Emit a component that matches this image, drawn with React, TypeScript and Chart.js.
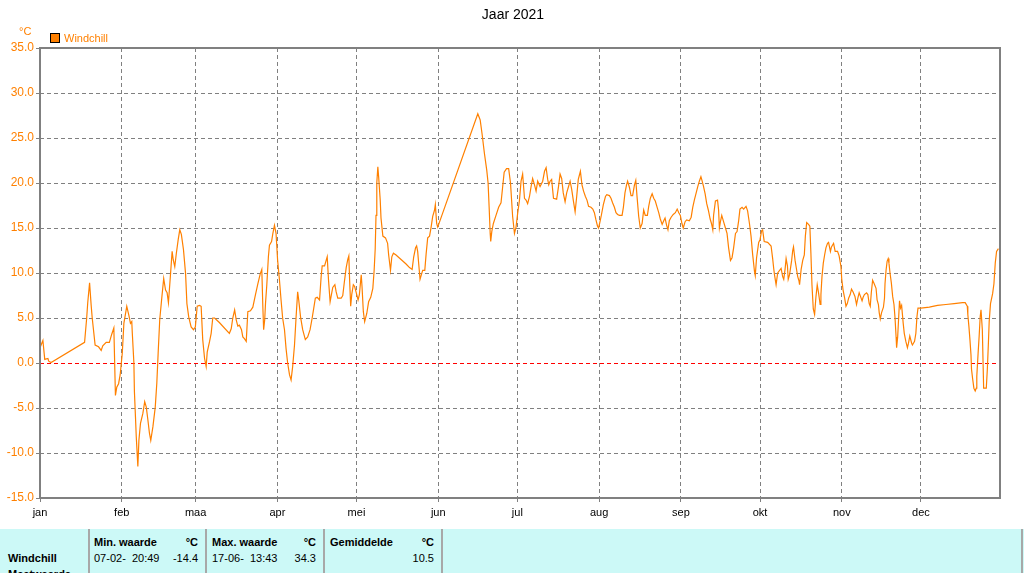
import React, { useEffect, useRef } from "react";
import { Chart, registerables } from "chart.js";

Chart.register(...registerables);

const chartTitle = "Jaar 2021";
const unitLabel = "°C";
const seriesName = "Windchill";

const monthStarts = [0, 31, 59, 90, 120, 151, 181, 212, 243, 273, 304, 334];
const monthLabels = ["jan", "feb", "maa", "apr", "mei", "jun", "jul", "aug", "sep", "okt", "nov", "dec"];
const yTicks = [-15, -10, -5, 0, 5, 10, 15, 20, 25, 30, 35];
const zeroLineValue = 0;

// day of year (0 = 1 jan) and windchill value in °C
const dayOfYear = [
  0, 1.1, 1.8, 3.0, 3.3, 4.2, 16.9, 17.7, 18.1, 18.8,
  19.4, 19.8, 20.9, 22.2, 23.2, 23.8, 25.1, 26.3, 27.2, 28.0,
  28.6, 29.1, 29.8, 30.4, 31.2, 31.8, 32.9, 33.7, 34.3, 34.8,
  35.0, 35.6, 35.8, 36.2, 36.5, 37.1, 37.5, 38.1, 39.0, 39.7,
  40.3, 40.9, 41.5, 42.0, 42.8, 43.7, 44.3, 44.8, 45.4, 46.1,
  46.9, 47.6, 48.2, 48.7, 49.4, 50.1, 50.5, 51.1, 51.7, 52.4,
  53.0, 53.6, 54.4, 55.2, 55.7, 56.4, 57.3, 58.2, 58.9, 59.6,
  60.5, 61.1, 61.7, 62.4, 63.0, 63.4, 64.3, 64.9, 65.5, 66.2,
  68.0, 71.8, 72.5, 73.1, 73.8, 74.4, 75.0, 75.6, 76.4, 76.9,
  77.5, 78.2, 78.8, 79.8, 80.7, 81.7, 82.6, 83.5, 84.1, 84.5,
  84.8, 85.2, 85.5, 86.0, 86.6, 87.0, 87.8, 88.3, 88.9, 89.5,
  90.1, 90.8, 91.4, 92.0, 92.7, 93.3, 93.9, 94.6, 95.2, 95.8,
  96.5, 97.1, 97.7, 98.1, 98.8, 99.6, 100.6, 101.5, 102.4, 103.2,
  103.8, 104.4, 105.1, 106.0, 106.6, 107.0, 107.9, 108.5, 108.9, 109.4,
  110.0, 110.5, 111.0, 111.8, 112.3, 112.9, 114.2, 114.8, 115.4, 116.1,
  116.7, 117.1, 117.4, 117.8, 118.2, 118.8, 119.3, 120.1, 120.6, 121.1,
  121.8, 122.1, 122.6, 123.1, 123.9, 124.6, 125.4, 126.2, 126.7, 127.1,
  127.4, 127.7, 128.1, 128.4, 129.0, 129.3, 130.0, 131.0, 131.8, 132.2,
  132.9, 133.4, 134.0, 135.0, 136.9, 138.8, 140.1, 141.1, 141.7, 142.4,
  142.8, 143.2, 143.6, 144.1, 144.7, 145.1, 145.9, 146.4, 147.0, 147.7,
  148.3, 148.9, 149.6, 149.9, 150.4, 150.8, 166.0, 166.9, 167.6, 168.5,
  169.4, 169.9, 170.3, 170.7, 170.9, 171.3, 171.9, 172.9, 173.9, 174.8,
  175.4, 176.0, 176.9, 177.7, 178.4, 179.2, 179.9, 180.5, 181.1, 181.8,
  182.4, 183.0, 183.7, 184.3, 184.9, 185.6, 186.2, 186.8, 187.5, 188.1,
  188.7, 189.6, 190.6, 191.3, 191.9, 192.5, 192.9, 193.4, 194.0, 194.7,
  195.9, 196.6, 197.2, 197.8, 198.4, 199.1, 199.7, 200.3, 201.0, 201.6,
  202.2, 202.9, 203.5, 204.1, 204.9, 205.5, 206.1, 206.8, 207.4, 208.0,
  208.9, 209.6, 210.2, 210.8, 211.4, 211.8, 212.4, 212.9, 213.6, 214.4,
  214.9, 215.9, 216.5, 217.1, 217.8, 218.4, 219.0, 219.7, 220.7, 221.2,
  221.8, 222.4, 222.8, 223.5, 224.1, 224.7, 225.4, 225.9, 226.4, 227.0,
  227.6, 228.3, 228.9, 229.5, 230.3, 230.8, 231.4, 232.1, 232.7, 233.3,
  234.0, 234.6, 235.2, 235.9, 236.5, 237.0, 237.6, 238.1, 238.6, 239.3,
  240.1, 240.9, 241.6, 242.2, 242.8, 243.4, 243.9, 244.6, 245.2, 246.2,
  246.9, 247.5, 248.1, 248.8, 249.4, 250.0, 250.6, 251.0, 251.6, 252.2,
  252.8, 253.4, 254.1, 254.6, 255.1, 255.4, 256.1, 256.9, 257.3, 257.6,
  258.0, 258.5, 259.1, 259.9, 260.5, 261.1, 261.8, 262.4, 263.0, 263.7,
  264.3, 264.9, 265.4, 266.2, 266.8, 267.7, 268.3, 269.0, 269.6, 270.2,
  270.9, 271.2, 271.7, 272.5, 273.0, 273.6, 274.0, 274.6, 275.9, 277.2,
  277.8, 278.2, 278.5, 279.1, 279.7, 281.0, 281.6, 282.0, 282.5, 282.9,
  283.4, 283.7, 284.2, 285.0, 285.4, 285.7, 286.3, 286.8, 287.3, 287.8,
  288.0, 288.6, 289.2, 289.8, 290.2, 290.7, 291.4, 291.9, 292.3, 292.7,
  293.2, 293.7, 294.2, 294.7, 295.2, 295.8, 296.1, 296.5, 297.0, 297.5,
  298.0, 298.6, 299.0, 299.7, 300.1, 300.9, 301.5, 302.4, 303.0, 303.7,
  304.0, 304.5, 305.1, 305.6, 306.1, 306.6, 307.2, 307.7, 308.3, 309.0,
  309.6, 310.1, 310.6, 311.1, 311.7, 312.1, 312.6, 313.4, 313.9, 314.4,
  314.8, 315.2, 315.7, 316.3, 317.0, 317.4, 317.9, 318.2, 318.6, 319.1,
  319.8, 320.2, 320.4, 320.8, 321.2, 321.6, 321.9, 322.3, 322.8, 323.3,
  323.8, 324.2, 324.6, 324.8, 325.2, 325.6, 325.9, 326.3, 326.7, 327.0,
  327.3, 327.7, 328.3, 328.9, 329.3, 329.8, 330.5, 330.8, 331.6, 332.1,
  332.5, 332.9, 334.0, 337.2, 340.3, 343.5, 346.6, 349.8, 350.8, 351.6,
  351.8, 352.2, 352.6, 353.0, 353.2, 353.6, 354.1, 354.6, 355.0, 355.2,
  355.7, 356.1, 356.5, 356.8, 357.3, 357.8, 358.8, 359.2, 359.6, 359.9,
  360.4, 361.2, 361.7, 362.2, 362.7, 363.4,
];

const windchill = [
  1.7, 2.5, 0.4, 0.5, 0.2, 0.05, 2.3, 5.0, 6.7, 8.9,
  6.4, 5.0, 2.0, 1.8, 1.4, 1.9, 2.3, 2.3, 3.2, 3.9,
  -3.6, -2.7, -2.3, -1.3, 1.1, 4.4, 6.3, 5.3, 4.4, 4.6,
  3.3, 0, -3.2, -6.0, -8.2, -11.5, -8.6, -6.7, -5.6, -4.3,
  -4.9, -6.3, -7.8, -8.6, -7.1, -4.9, -2.2, 1.1, 4.8, 7.0,
  9.4, 8.1, 7.8, 6.7, 9.5, 12.4, 11.5, 10.7, 12.2, 13.7,
  14.8, 14.3, 12.6, 9.9, 6.6, 5.1, 4.0, 3.7, 4.0, 6.3,
  6.4, 6.3, 2.6, 0.5, -0.4, 1.2, 2.4, 3.3, 5.0, 5.0,
  4.5, 3.3, 3.8, 5.0, 5.9, 4.8, 4.1, 4.2, 3.7, 2.9,
  2.7, 2.4, 5.7, 5.8, 6.2, 7.6, 8.8, 9.9, 10.4, 6.2,
  3.7, 4.8, 6.6, 8.7, 11.8, 13.1, 13.5, 14.4, 15.3, 14.4,
  11.4, 9.2, 7.0, 5.0, 3.7, 1.6, 0, -1.3, -1.9, -0.4,
  2.0, 5.1, 7.9, 7.0, 5.1, 3.7, 2.6, 2.9, 3.7, 5.0,
  6.1, 7.2, 7.3, 7.0, 9.6, 10.8, 10.8, 11.4, 11.8, 9.2,
  6.8, 7.6, 8.4, 8.7, 7.9, 7.2, 7.2, 7.5, 9.0, 10.6,
  11.5, 11.9, 9.2, 6.3, 7.6, 8.7, 8.5, 7.6, 7.0, 7.6,
  9.8, 8.5, 5.7, 4.6, 5.5, 6.8, 7.3, 8.3, 10.3, 12.7,
  16.4, 20.0, 21.8, 20.7, 18.1, 16.1, 14.1, 13.9, 13.3, 12.0,
  10.3, 11.8, 12.2, 12.0, 11.5, 11.0, 10.6, 10.4, 11.8, 12.8,
  13.0, 12.4, 11.0, 9.3, 9.9, 10.3, 10.3, 12.1, 13.9, 14.1,
  15.1, 16.3, 17.0, 17.6, 15.5, 15.1, 27.7, 27.0, 25.5, 23.3,
  21.4, 20.0, 17.3, 14.4, 13.5, 14.6, 15.5, 16.4, 17.3, 17.8,
  19.5, 21.2, 21.6, 21.6, 20.0, 16.3, 14.4, 15.1, 16.6, 18.1,
  20.2, 21.0, 18.3, 18.1, 17.7, 18.5, 19.6, 20.5, 19.8, 19.1,
  20.2, 19.6, 20.2, 21.3, 21.7, 20.4, 19.8, 20.2, 20.4, 18.3,
  18.2, 19.6, 21.0, 20.5, 18.9, 17.9, 18.9, 19.5, 20.2, 19.3,
  18.1, 16.8, 18.5, 20.4, 21.3, 19.8, 19.1, 18.5, 18.1, 17.4,
  17.3, 17.1, 16.7, 15.9, 15.2, 15.0, 15.8, 16.5, 17.6, 18.5,
  18.7, 18.6, 18.3, 17.8, 17.3, 16.7, 16.5, 16.4, 16.4, 17.3,
  18.9, 19.8, 20.2, 19.5, 18.6, 18.6, 19.8, 20.3, 18.4, 16.3,
  15.0, 15.5, 17.0, 16.4, 16.4, 17.4, 18.3, 18.8, 18.3, 18.0,
  17.3, 16.7, 16.0, 15.4, 15.8, 16.1, 15.3, 14.8, 15.8, 16.2,
  16.5, 16.7, 17.1, 16.7, 16.4, 15.5, 15.0, 15.7, 15.9, 15.8,
  16.2, 17.3, 18.1, 18.9, 19.6, 20.2, 20.7, 20.3, 19.6, 18.8,
  17.7, 17.0, 16.0, 15.5, 14.8, 16.4, 18.0, 18.1, 17.0, 15.0,
  15.7, 16.4, 15.8, 15.0, 14.4, 12.8, 11.4, 11.7, 12.8, 14.4,
  14.6, 15.8, 17.1, 17.3, 17.1, 17.4, 16.9, 15.5, 14.1, 12.1,
  10.2, 9.7, 11.7, 13.4, 13.7, 14.7, 14.8, 13.5, 13.4, 13.0,
  11.6, 10.5, 9.8, 8.7, 10.0, 10.5, 9.6, 9.3, 10.4, 11.6,
  10.8, 9.3, 9.8, 11.4, 12.5, 12.9, 11.4, 10.5, 9.6, 9.1,
  8.7, 10.4, 11.4, 12.0, 14.1, 15.6, 15.4, 15.2, 12.2, 8.7,
  6.0, 5.4, 7.3, 8.7, 7.8, 6.5, 7.6, 9.6, 11.1, 12.0,
  12.8, 13.3, 13.4, 12.4, 12.9, 13.3, 12.4, 12.4, 11.9, 10.7,
  9.3, 8.1, 7.2, 6.3, 6.6, 7.2, 7.6, 8.2, 7.9, 7.4,
  6.5, 7.2, 7.8, 7.4, 6.9, 7.3, 7.6, 7.8, 7.6, 6.6,
  6.3, 7.8, 9.2, 8.8, 8.3, 7.0, 6.5, 5.6, 4.9, 5.6,
  6.2, 7.2, 8.8, 10.3, 11.3, 11.6, 11.1, 10.0, 8.9, 7.4,
  6.5, 5.0, 2.9, 1.7, 2.9, 5.2, 6.9, 6.1, 6.4, 5.4,
  4.4, 3.3, 2.4, 1.7, 2.2, 3.0, 2.2, 2.0, 2.4, 3.3,
  5.1, 6.1, 6.1, 6.2, 6.4, 6.5, 6.6, 6.7, 6.7, 6.3,
  5.4, 4.1, 2.6, 0.9, -0.7, -1.7, -2.8, -3.1, -2.8, -1.5,
  1.1, 3.0, 5.2, 5.9, 3.7, -2.8, -2.8, -0.7, 2.2, 4.6,
  6.6, 7.7, 8.8, 11.1, 12.4, 12.7,
];

const rowLabels = ["Windchill", "Meetwaarde"];
const statHeaders = ["Min. waarde", "Max. waarde", "Gemiddelde"];
const statTimes = ["07-02-  20:49", "17-06-  13:43", ""];
const statValues = ["-14.4", "34.3", "10.5"];

const ORANGE = "#ff8000";
const GRID = "#808080";
const FONT = "'Liberation Sans', Arial, sans-serif";
const CYAN = "#ccf9f7";

const decorPlugin = {
  id: "decor",
  beforeDatasetsDraw(chart: any) {
    const ctx = chart.ctx as CanvasRenderingContext2D;
    const { left, right } = chart.chartArea;
    const y = Math.round(chart.scales.y.getPixelForValue(zeroLineValue)) + 0.5;
    ctx.save();
    ctx.strokeStyle = "#ff0000";
    ctx.lineWidth = 1;
    ctx.setLineDash([4, 3]);
    ctx.beginPath();
    ctx.moveTo(left, y);
    ctx.lineTo(right, y);
    ctx.stroke();
    ctx.restore();
  },
  afterDraw(chart: any) {
    const ctx = chart.ctx as CanvasRenderingContext2D;
    const { left, top, right, bottom } = chart.chartArea;
    ctx.save();
    // frame
    ctx.strokeStyle = GRID;
    ctx.lineWidth = 2;
    ctx.setLineDash([]);
    ctx.strokeRect(left, top, right - left, bottom - top);
    // title
    ctx.fillStyle = "#000";
    ctx.font = `14px ${FONT}`;
    ctx.textAlign = "center";
    ctx.textBaseline = "middle";
    ctx.fillText(chartTitle, 513, 15);
    // unit
    ctx.fillStyle = ORANGE;
    ctx.font = `11px ${FONT}`;
    ctx.textAlign = "left";
    ctx.fillText(unitLabel, 19, 32);
    // legend
    ctx.fillRect(50, 33, 10, 10);
    ctx.strokeStyle = "#000";
    ctx.lineWidth = 1;
    ctx.strokeRect(50.5, 33.5, 9, 9);
    ctx.fillStyle = ORANGE;
    ctx.fillText(seriesName, 64, 38.5);
    ctx.restore();
  },
};

function ChartCanvas() {
  const ref = useRef<HTMLCanvasElement | null>(null);
  useEffect(() => {
    if (!ref.current) return;
    const chart = new Chart(ref.current, {
      type: "line",
      data: {
        datasets: [
          {
            label: seriesName,
            data: dayOfYear.map((d, i) => ({ x: d, y: windchill[i] })),
            borderColor: ORANGE,
            backgroundColor: ORANGE,
            borderWidth: 1.2,
            pointRadius: 0,
            tension: 0,
            fill: false,
          },
        ],
      },
      options: {
        animation: false,
        responsive: false,
        maintainAspectRatio: false,
        devicePixelRatio: 1,
        layout: { padding: { left: 0, right: 24, top: 48, bottom: 0 } },
        plugins: {
          legend: { display: false },
          title: { display: false },
          tooltip: { enabled: false },
        },
        scales: {
          x: {
            type: "linear",
            min: 0,
            max: 364,
            afterBuildTicks: (s: any) => {
              s.ticks = monthStarts.map((v) => ({ value: v }));
            },
            afterFit: (s: any) => {
              s.height = 31;
            },
            ticks: {
              autoSkip: false,
              maxRotation: 0,
              color: "#000",
              padding: 4,
              font: { family: FONT, size: 11 },
              callback: (v: any) => {
                const i = monthStarts.indexOf(Number(v));
                return i >= 0 ? monthLabels[i] : "";
              },
            },
            grid: {
              color: GRID,
              lineWidth: 1,
              tickLength: 4,
              tickColor: GRID,
              tickBorderDash: [],
              borderDash: [4, 3],
            } as any,
            border: { display: false, dash: [4, 3] },
          },
          y: {
            min: -15,
            max: 35,
            afterBuildTicks: (s: any) => {
              s.ticks = yTicks.map((v) => ({ value: v }));
            },
            afterFit: (s: any) => {
              s.width = 40;
            },
            ticks: {
              color: ORANGE,
              padding: 2,
              font: { family: FONT, size: 12 },
              callback: (v: any) => Number(v).toFixed(1),
            },
            grid: {
              color: (c: any) => (c.tick && c.tick.value === zeroLineValue ? "rgba(0,0,0,0)" : GRID),
              lineWidth: 1,
              tickLength: 4,
              tickColor: GRID,
              tickBorderDash: [],
              borderDash: [4, 3],
            } as any,
            border: { display: false, dash: [4, 3] },
          },
        },
      },
      plugins: [decorPlugin],
    } as any);
    return () => chart.destroy();
  }, []);
  return (
    <canvas
      ref={ref}
      width={1024}
      height={529}
      style={{ position: "absolute", left: 0, top: 0, width: 1024, height: 529, display: "block" }}
    />
  );
}

const sepXs = [88, 205, 323, 441, 1021];
const colLefts = [94, 212, 330];
const colRights = [198, 316, 434];

function StatsTable() {
  const base: React.CSSProperties = {
    position: "absolute",
    fontFamily: FONT,
    fontSize: 11,
    lineHeight: "13px",
    color: "#000",
    whiteSpace: "pre",
  };
  return (
    <div
      style={{
        position: "absolute",
        left: 0,
        top: 529,
        width: 1024,
        height: 44,
        background: CYAN,
        overflow: "hidden",
      }}
    >
      {sepXs.map((x, i) => (
        <div
          key={"s" + i}
          style={{ position: "absolute", left: x, top: 0, width: 2, height: 60, background: "#a8a8a8" }}
        />
      ))}
      <div style={{ ...base, left: 8, top: 23, fontWeight: "bold" }}>{rowLabels[0]}</div>
      <div style={{ ...base, left: 8, top: 39, fontWeight: "bold" }}>{rowLabels[1]}</div>
      {statHeaders.map((h, i) => (
        <React.Fragment key={"h" + i}>
          <div style={{ ...base, left: colLefts[i], top: 7, fontWeight: "bold" }}>{h}</div>
          <div
            style={{
              ...base,
              left: colLefts[i],
              width: colRights[i] - colLefts[i],
              top: 7,
              fontWeight: "bold",
              textAlign: "right",
            }}
          >
            {unitLabel}
          </div>
          <div style={{ ...base, left: colLefts[i], top: 23 }}>{statTimes[i]}</div>
          <div
            style={{
              ...base,
              left: colLefts[i],
              width: colRights[i] - colLefts[i],
              top: 23,
              textAlign: "right",
            }}
          >
            {statValues[i]}
          </div>
        </React.Fragment>
      ))}
    </div>
  );
}

export default function App() {
  return (
    <div
      style={{
        position: "absolute",
        left: 0,
        top: 0,
        width: 1024,
        height: 573,
        overflow: "hidden",
        background: "#fff",
      }}
    >
      <ChartCanvas />
      <StatsTable />
    </div>
  );
}
